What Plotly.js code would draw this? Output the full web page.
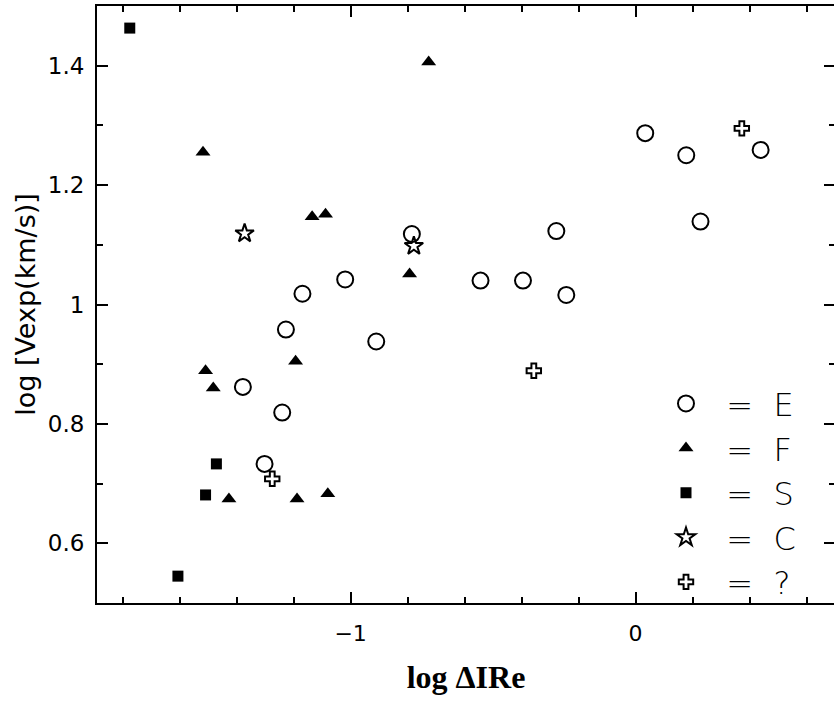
<!DOCTYPE html>
<html>
<head>
<meta charset="utf-8">
<script src="https://cdn.plot.ly/plotly-3.0.1.min.js"></script>
<style>
  html, body { margin: 0; padding: 0; overflow: hidden; background: #fff; }
  #chart { width: 842px; height: 706px; }
</style>
</head>
<body>
<div id="chart"></div>
<script>
// Data
const E_x = [-1.378, -1.240, -1.227, -1.302, -0.910, -1.169, -1.019, -0.785, -0.544, -0.395, -0.278, -0.243, 0.034, 0.178, 0.228, 0.439];
const E_y = [0.862, 0.819, 0.958, 0.733, 0.938, 1.018, 1.042, 1.118, 1.040, 1.040, 1.123, 1.016, 1.287, 1.250, 1.139, 1.259];

const F_x = [-1.518, -0.726, -1.135, -1.088, -0.793, -1.509, -1.482, -1.193, -1.427, -1.188, -1.080];
const F_y = [1.255, 1.406, 1.147, 1.151, 1.051, 0.889, 0.860, 0.905, 0.674, 0.674, 0.683];

const S_x = [-1.775, -1.606, -1.471, -1.509];
const S_y = [1.463, 0.545, 0.733, 0.681];

const C_x = [-1.372, -0.778];
const C_y = [1.119, 1.098];

const Q_x = [-1.275, -0.357, 0.373];
const Q_y = [0.708, 0.889, 1.295];

const legendNames = ['\u00a0\u00a0=\u00a0\u00a0E', '\u00a0\u00a0=\u00a0\u00a0F', '\u00a0\u00a0=\u00a0\u00a0S', '\u00a0\u00a0=\u00a0\u00a0C', '\u00a0\u00a0=\u00a0\u00a0?'];

const traces = [
  {x: E_x, y: E_y, name: legendNames[0], legendgroup: 'E', mode: 'markers', type: 'scatter',
   marker: {symbol: 'circle-open', size: 16, color: '#000', line: {width: 2, color: '#000'}}},
  {x: F_x, y: F_y, name: legendNames[1], legendgroup: 'F', mode: 'markers', type: 'scatter',
   marker: {symbol: 'triangle-up', size: 13, color: '#000'}},
  {x: S_x, y: S_y, name: legendNames[2], legendgroup: 'S', mode: 'markers', type: 'scatter',
   marker: {symbol: 'square', size: 11, color: '#000'}},
  {x: C_x, y: C_y, name: legendNames[3], legendgroup: 'C', mode: 'markers', type: 'scatter',
   marker: {symbol: 'star-open', size: 14, color: '#000', line: {width: 2, color: '#000'}}},
  {x: Q_x, y: Q_y, name: legendNames[4], legendgroup: 'Q', mode: 'markers', type: 'scatter',
   marker: {symbol: 'cross-open', size: 12, color: '#000', line: {width: 2, color: '#000'}}}
];

const axisCommon = {
  showline: true, linecolor: '#000', linewidth: 2, mirror: 'allticks',
  ticks: 'inside', tickcolor: '#000', tickwidth: 2, ticklen: 11,
  showgrid: false, zeroline: false
};

const layout = {
  width: 842, height: 706,
  margin: {l: 97, r: 7, t: 6, b: 103},
  paper_bgcolor: '#fff', plot_bgcolor: '#fff',
  showlegend: true,
  legend: {
    x: 0.771, y: 0.38, xanchor: 'left', yanchor: 'top',
    bgcolor: 'rgba(0,0,0,0)', borderwidth: 0,
    traceorder: 'grouped', tracegroupgap: 0,
    font: {family: 'DejaVu Sans', size: 32, color: '#000', weight: 300},
    itemclick: false
  },
  xaxis: Object.assign({}, axisCommon, {
    range: [-1.89, 0.70], dtick: 1, tick0: 0,
    minor: {dtick: 0.2, tick0: 0, ticks: 'inside', ticklen: 6, tickwidth: 2, tickcolor: '#000'},
    tickfont: {family: 'DejaVu Sans', size: 22, color: '#000'},
    ticklabelstandoff: 10,
    title: {text: 'log \u0394IRe', font: {family: 'Liberation Serif', size: 32, color: '#000', weight: 'bold'}, standoff: 20}
  }),
  yaxis: Object.assign({}, axisCommon, {
    range: [0.5, 1.5], dtick: 0.2, tick0: 0,
    minor: {dtick: 0.1, tick0: 0, ticks: 'inside', ticklen: 6, tickwidth: 2, tickcolor: '#000'},
    tickfont: {family: 'DejaVu Sans', size: 23, color: '#000'},
    ticklabelstandoff: 6,
    title: {text: 'log [Vexp(km/s)]', font: {family: 'DejaVu Sans', size: 27, color: '#000'}, standoff: 4}
  })
};

Plotly.newPlot('chart', traces, layout, {displayModeBar: false, staticPlot: true});
</script>
</body>
</html>
